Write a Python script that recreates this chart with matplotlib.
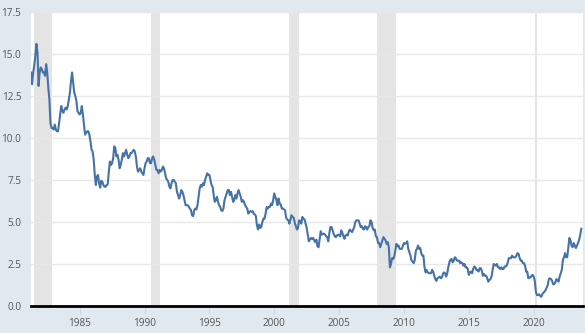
import numpy as np
import matplotlib.pyplot as plt

# monthly 10-year yield readings, Apr 1981 .. Sep 2023
start_year = 1981
start_month = 4
y1981 = [13.9, 13.2, 13.9, 14.3, 14.9, 15.6, 15.1, 13.1, 13.9]
y1982 = [14.2, 14.1, 13.9, 13.9, 13.7, 14.4, 13.9, 13.0, 12.3, 10.9, 10.6, 10.6]
y1983 = [10.5, 10.8, 10.5, 10.4, 10.4, 10.9, 11.4, 11.9, 11.6, 11.5, 11.7, 11.8]
y1984 = [11.7, 11.9, 12.3, 12.7, 13.4, 13.9, 13.3, 12.7, 12.5, 12.2, 11.6, 11.5]
y1985 = [11.4, 11.5, 11.9, 11.4, 10.8, 10.2, 10.3, 10.4, 10.4, 10.2, 9.8, 9.3]
y1986 = [9.2, 8.7, 7.8, 7.2, 7.7, 7.8, 7.3, 7.05, 7.45, 7.4, 7.2, 7.1]
y1987 = [7.1, 7.2, 7.25, 8.0, 8.6, 8.4, 8.5, 8.8, 9.5, 9.4, 8.9, 9.0]
y1988 = [8.7, 8.2, 8.4, 8.7, 9.1, 8.9, 9.1, 9.3, 9.0, 8.8, 8.9, 9.1]
y1989 = [9.1, 9.2, 9.3, 9.2, 8.9, 8.3, 8.0, 8.1, 8.2, 8.0, 7.9, 7.8]
y1990 = [8.2, 8.5, 8.6, 8.8, 8.8, 8.5, 8.5, 8.8, 8.9, 8.7, 8.4, 8.1]
y1991 = [8.1, 7.9, 8.1, 8.0, 8.1, 8.3, 8.2, 7.9, 7.6, 7.5, 7.4, 7.1]
y1992 = [7.0, 7.3, 7.5, 7.5, 7.4, 7.3, 6.8, 6.6, 6.4, 6.6, 6.9, 6.8]
y1993 = [6.6, 6.3, 6.0, 6.0, 6.0, 5.9, 5.8, 5.7, 5.4, 5.35, 5.7, 5.8]
y1994 = [5.75, 6.0, 6.5, 7.0, 7.2, 7.1, 7.3, 7.2, 7.5, 7.7, 7.9, 7.8]
y1995 = [7.8, 7.5, 7.2, 7.1, 6.6, 6.2, 6.3, 6.5, 6.2, 6.0, 5.9, 5.7]
y1996 = [5.65, 5.8, 6.3, 6.5, 6.7, 6.9, 6.9, 6.6, 6.8, 6.5, 6.2, 6.3]
y1997 = [6.6, 6.4, 6.7, 6.9, 6.7, 6.5, 6.2, 6.3, 6.2, 6.0, 5.9, 5.8]
y1998 = [5.5, 5.6, 5.65, 5.6, 5.65, 5.5, 5.45, 5.35, 4.8, 4.55, 4.85, 4.65]
y1999 = [4.7, 5.0, 5.2, 5.2, 5.5, 5.9, 5.8, 5.9, 5.9, 6.1, 6.0, 6.3]
y2000 = [6.7, 6.5, 6.3, 6.0, 6.4, 6.1, 6.05, 5.8, 5.8, 5.75, 5.7, 5.25]
y2001 = [5.15, 5.1, 4.9, 5.15, 5.4, 5.3, 5.25, 4.95, 4.75, 4.55, 4.65, 5.1]
y2002 = [5.05, 4.9, 5.3, 5.2, 5.15, 4.9, 4.65, 4.25, 3.85, 3.95, 4.05, 4.0]
y2003 = [4.05, 3.9, 3.8, 3.95, 3.55, 3.5, 4.0, 4.45, 4.25, 4.3, 4.3, 4.25]
y2004 = [4.15, 4.1, 3.85, 4.35, 4.7, 4.7, 4.5, 4.3, 4.15, 4.1, 4.2, 4.25]
y2005 = [4.2, 4.15, 4.5, 4.35, 4.15, 4.0, 4.2, 4.25, 4.2, 4.45, 4.55, 4.45]
y2006 = [4.4, 4.55, 4.7, 5.0, 5.1, 5.1, 5.1, 4.9, 4.7, 4.75, 4.6, 4.55]
y2007 = [4.75, 4.7, 4.55, 4.7, 4.75, 5.1, 5.0, 4.65, 4.5, 4.55, 4.15, 4.1]
y2008 = [3.75, 3.75, 3.5, 3.7, 3.9, 4.1, 4.0, 3.9, 3.7, 3.8, 3.5, 2.3]
y2009 = [2.5, 2.85, 2.8, 2.95, 3.3, 3.7, 3.55, 3.6, 3.4, 3.4, 3.4, 3.6]
y2010 = [3.75, 3.7, 3.75, 3.85, 3.4, 3.2, 3.0, 2.7, 2.65, 2.55, 2.75, 3.3]
y2011 = [3.4, 3.6, 3.4, 3.45, 3.15, 3.0, 3.0, 2.3, 2.0, 2.15, 2.0, 1.95]
y2012 = [1.95, 1.95, 2.15, 2.05, 1.8, 1.6, 1.5, 1.65, 1.7, 1.75, 1.65, 1.7]
y2013 = [1.9, 2.0, 1.95, 1.75, 1.95, 2.3, 2.6, 2.75, 2.8, 2.6, 2.7, 2.9]
y2014 = [2.85, 2.7, 2.7, 2.7, 2.55, 2.6, 2.55, 2.4, 2.5, 2.3, 2.3, 2.2]
y2015 = [1.85, 2.0, 2.05, 1.95, 2.2, 2.35, 2.3, 2.15, 2.15, 2.05, 2.25, 2.25]
y2016 = [2.1, 1.8, 1.9, 1.8, 1.8, 1.65, 1.45, 1.55, 1.6, 1.75, 2.15, 2.5]
y2017 = [2.45, 2.4, 2.5, 2.3, 2.3, 2.2, 2.3, 2.2, 2.2, 2.35, 2.35, 2.4]
y2018 = [2.6, 2.85, 2.85, 2.85, 3.0, 2.9, 2.9, 2.9, 3.0, 3.15, 3.1, 2.85]
y2019 = [2.7, 2.7, 2.55, 2.55, 2.4, 2.05, 2.05, 1.65, 1.7, 1.7, 1.8, 1.85]
y2020 = [1.75, 1.5, 0.85, 0.65, 0.65, 0.7, 0.6, 0.55, 0.7, 0.8, 0.85, 0.95]
y2021 = [1.1, 1.25, 1.6, 1.65, 1.6, 1.5, 1.3, 1.3, 1.4, 1.6, 1.55, 1.45]
y2022 = [1.75, 1.95, 2.15, 2.75, 2.9, 3.15, 2.9, 2.9, 3.5, 4.05, 3.9, 3.6]
y2023 = [3.5, 3.75, 3.6, 3.45, 3.6, 3.75, 3.95, 4.2, 4.6]

values = (y1981 + y1982 + y1983 + y1984 + y1985 + y1986 + y1987 + y1988 + y1989
          + y1990 + y1991 + y1992 + y1993 + y1994 + y1995 + y1996 + y1997 + y1998
          + y1999 + y2000 + y2001 + y2002 + y2003 + y2004 + y2005 + y2006 + y2007
          + y2008 + y2009 + y2010 + y2011 + y2012 + y2013 + y2014 + y2015 + y2016
          + y2017 + y2018 + y2019 + y2020 + y2021 + y2022 + y2023)
dates = start_year + (start_month - 1 + np.arange(len(values))) / 12.0

# recession periods (start, end) in fractional years
recessions = [(1981.5, 1982.88), (1990.5, 1991.17), (2001.17, 2001.88),
              (2007.92, 2009.42), (2020.08, 2020.29)]

x_ticks = [1985, 1990, 1995, 2000, 2005, 2010, 2015, 2020]
y_ticks = [0.0, 2.5, 5.0, 7.5, 10.0, 12.5, 15.0, 17.5]

bg = "#e1e9f0"
fig = plt.figure(figsize=(5.85, 3.33), dpi=100, facecolor=bg)
ax = fig.add_axes([31 / 585, 27 / 333, 552 / 585, 294 / 333])
ax.set_facecolor("white")

for r0, r1 in recessions:
    ax.axvspan(r0, r1, color="#e4e4e4", lw=0, zorder=1)

ax.plot(dates, values, color="#4572a7", lw=1.5, zorder=3,
        solid_joinstyle="round")

ax.set_xlim(1981.25, 2023.8)
ax.set_ylim(0, 17.5)
ax.set_xticks(x_ticks)
ax.set_xticklabels([str(t) for t in x_ticks])
ax.set_yticks(y_ticks)
ax.set_yticklabels(["%.1f" % t for t in y_ticks])

ax.grid(axis="y", color="#e8e8e8", lw=1.0, zorder=0)
for s in ["top", "right", "left"]:
    ax.spines[s].set_visible(False)
ax.spines["bottom"].set_color("black")
ax.spines["bottom"].set_linewidth(2.0)
ax.spines["bottom"].set_zorder(4)

ax.tick_params(axis="x", length=6, width=0.8, color="#ccd6eb", pad=3,
               labelsize=7.2, labelcolor="#555555", direction="out")
ax.tick_params(axis="y", length=0, pad=7, labelsize=7.2, labelcolor="#555555")
for lab in ax.get_xticklabels() + ax.get_yticklabels():
    lab.set_family("Open Sans")

fig.savefig("out.png", dpi=100, facecolor=bg)
